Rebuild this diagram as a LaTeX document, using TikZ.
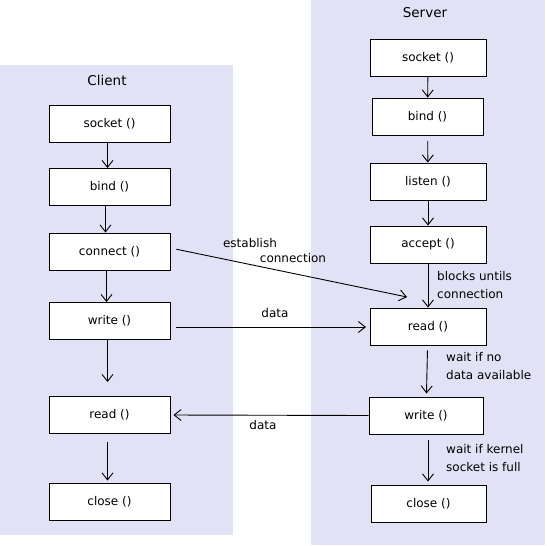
\documentclass[tikz,border=0pt]{standalone}
\usepackage{fontspec}
\setmainfont{DejaVu Sans}
\usepackage{xcolor}
\usetikzlibrary{arrows.meta}
\definecolor{panel}{RGB}{226,226,246}

\begin{document}
\begin{tikzpicture}[x=1pt,y=-1pt,
    >={Straight Barb[length=7pt,width=11pt]},
    call/.style={draw, fill=white, line width=0.9pt, minimum height=37pt, inner sep=0pt, font=\fontsize{12}{14}\selectfont},
    flow/.style={->, line width=0.9pt},
    note/.style={font=\fontsize{12}{18}\selectfont, align=left, inner sep=0pt},
    side/.style={font=\fontsize{13.5}{16}\selectfont}]
    \useasboundingbox (0,0) rectangle (546,546);
    \fill[panel] (0,65) rectangle (233,535);
    \fill[panel] (311,0) rectangle (545,545);
    \node[side] (client) at (107,80) {Client};
    \node[side] (server) at (425,13) {Server};

    % client side
    \foreach \n / \y / \t in {csock/124/socket (),cbind/187/bind (),cconn/251.5/connect (),cwrite/321/write (),cread/415/read (),cclose/501.5/close ()}
    \node[call, minimum width=121pt] (\n) at (109.5,\y) {\t};

    % server side
    \node[call, minimum width=116pt] (ssock) at (428,57.5) {socket ()};
    \node[call, minimum width=111pt] (sbind) at (427.5,116.5) {bind ()};
    \node[call, minimum width=116pt] (slisten) at (428,181.5) {listen ()};
    \node[call, minimum width=116pt] (saccept) at (428,244.5) {accept ()};
    \node[call, minimum width=116pt] (sread) at (428,326.5) {read ()};
    \node[call, minimum width=114pt] (swrite) at (426,415.5) {write ()};
    \node[call, minimum width=115pt] (sclose) at (428.5,503.5) {close ()};

    \draw[flow] ([xshift=-2pt]csock.south) -- ([xshift=-2pt]cbind.north);
    \draw[flow] ([xshift=-4pt]cbind.south) -- ([xshift=-4pt]cconn.north);
    \draw[flow] ([xshift=-3pt]cconn.south) -- ([xshift=-3pt]cwrite.north);
    \draw[flow, shorten >=14pt] ([xshift=-2pt]cwrite.south) -- ([xshift=-2pt]cread.north);
    \draw[flow, shorten <=8pt, shorten >=2pt] ([xshift=-2pt]cread.south) -- ([xshift=-2pt]cclose.north);

    \draw[flow] (ssock) -- (sbind);
    \draw[flow, shorten <=6pt] (sbind) -- (slisten);
    \draw[flow] (slisten) -- (saccept);
    \draw[flow] (saccept) -- (sread);
    \draw[flow, shorten <=5pt, shorten >=3pt] (sread) -- (swrite);
    \draw[flow, shorten <=6pt, shorten >=3pt] ([xshift=2pt]swrite.south) -- ([xshift=-0.5pt]sclose.north);

    \coordinate (conntip) at (407,297);
    \coordinate (datatip) at (366,327);
    \draw[flow, shorten <=6pt] ([yshift=3.5pt]cconn.east) -- (conntip);
    \draw[flow, shorten <=6pt] ([yshift=-6pt]cwrite.east) -- (datatip);
    \draw[flow, shorten >=3pt] (swrite.west) -- (cread.east);

    \node[note] (lest) at (250,243) {establish};
    \node[note] (lconn) at (293,258) {connection};
    \node[note] (ldata1) at (275,313) {data};
    \node[note] (ldata2) at (263,425) {data};
    \node[note, anchor=west] (lblock) at (437,285) {blocks untils\\connection};
    \node[note, anchor=west] (lwait) at (446,366) {wait if no\\data available};
    \node[note, anchor=west] (lfull) at (446,458) {wait if kernel\\socket is full};
\end{tikzpicture}
\end{document}
